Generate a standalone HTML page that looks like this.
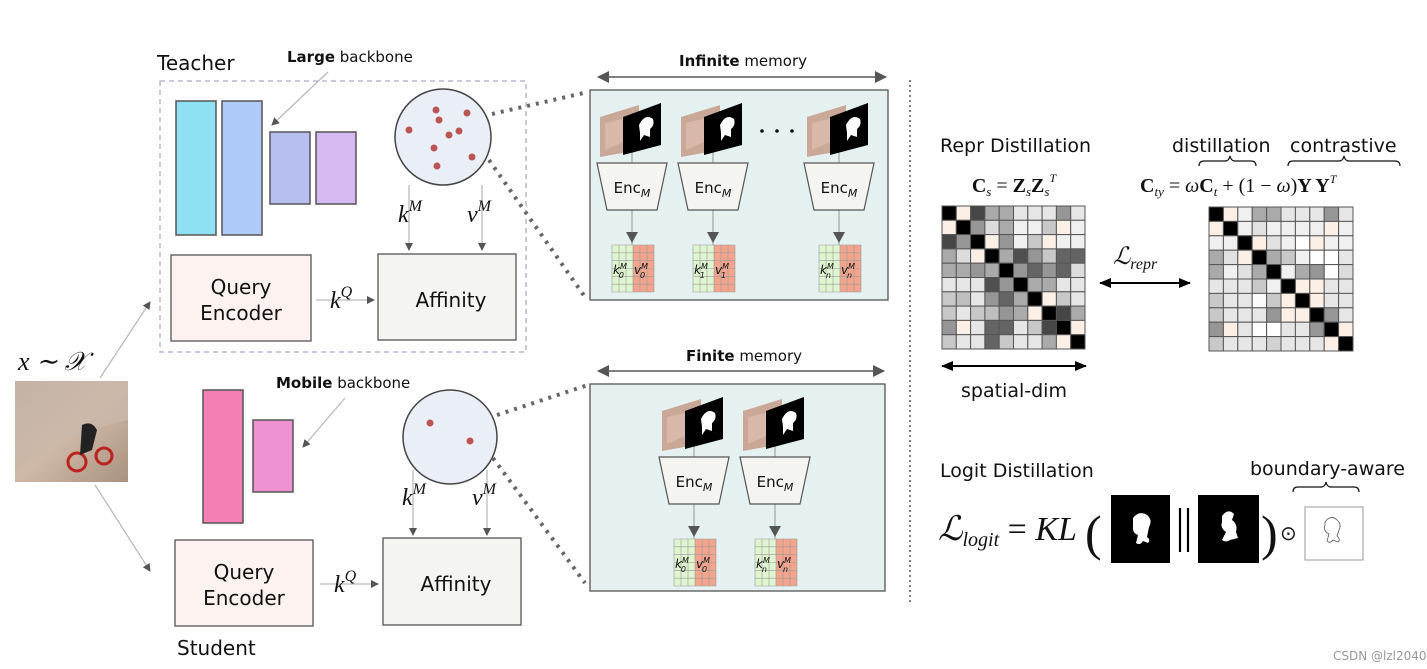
<!DOCTYPE html>
<html><head><meta charset="utf-8"><style>
body{margin:0;background:#fff;width:1427px;height:669px;overflow:hidden}
svg{display:block}
text{font-family:"DejaVu Sans","Liberation Sans",sans-serif;fill:#111}
.m{font-family:"Liberation Serif",serif;font-style:italic}
.b{font-family:"Liberation Serif",serif;font-weight:bold}
.r{font-family:"Liberation Serif",serif}
</style></head><body>
<svg id="s" width="1427" height="669" viewBox="0 0 1427 669" xmlns="http://www.w3.org/2000/svg">
<defs>
<marker id="a" markerWidth="8" markerHeight="8" refX="7" refY="4" orient="auto" markerUnits="userSpaceOnUse"><path d="M0,0L8,4L0,8z" fill="#555"/></marker>
<marker id="a2" markerWidth="12" markerHeight="12" refX="11" refY="6" orient="auto-start-reverse" markerUnits="userSpaceOnUse"><path d="M0,0L12,6L0,12z" fill="#555"/></marker>
<marker id="ab" markerWidth="12" markerHeight="10" refX="11" refY="5" orient="auto-start-reverse" markerUnits="userSpaceOnUse"><path d="M0,0L12,5L0,10z" fill="#000"/></marker>
</defs>
<text x="157" y="70" font-size="20">Teacher</text>
<text x="287" y="62" font-size="15"><tspan font-weight="bold">Large</tspan> backbone</text>
<line x1="328" y1="72" x2="272" y2="125" stroke="#bbb" stroke-width="1.3" marker-end="url(#a)"/>
<rect x="160" y="81" width="366" height="271" fill="none" stroke="#b8b8d4" stroke-width="1.5" stroke-dasharray="5,4"/>
<rect x="176" y="101" width="40" height="134" fill="#8fe0f2" stroke="#555" stroke-width="1.5"/>
<rect x="222" y="101" width="40" height="134" fill="#aecaf6" stroke="#555" stroke-width="1.5"/>
<rect x="270" y="132" width="40" height="72" fill="#b6bff0" stroke="#555" stroke-width="1.5"/>
<rect x="316" y="132" width="40" height="72" fill="#d6baf2" stroke="#555" stroke-width="1.5"/>
<circle cx="443" cy="137" r="48" fill="#e9eef7" stroke="#444" stroke-width="1.5"/>
<g fill="#bb5555"><circle cx="436" cy="110" r="3.5"/><circle cx="467" cy="113" r="3.5"/><circle cx="439" cy="120" r="3.5"/><circle cx="409" cy="130" r="3.5"/><circle cx="459" cy="131" r="3.5"/><circle cx="449" cy="135" r="3.5"/><circle cx="434" cy="148" r="3.5"/><circle cx="472" cy="157" r="3.5"/><circle cx="437" cy="166" r="3.5"/></g>
<line x1="409" y1="185" x2="409" y2="250" stroke="#bbb" stroke-width="1.3" marker-end="url(#a)"/>
<line x1="482" y1="185" x2="482" y2="250" stroke="#bbb" stroke-width="1.3" marker-end="url(#a)"/>
<text x="398" y="222" class="m" font-size="24">k<tspan font-size="16" dy="-11">M</tspan></text>
<text x="467" y="222" class="m" font-size="24">v<tspan font-size="16" dy="-11">M</tspan></text>
<rect x="171" y="255" width="140" height="86" fill="#fdf2ef" stroke="#555" stroke-width="1.3"/>
<text x="241" y="294" font-size="20" text-anchor="middle">Query</text>
<text x="241" y="320" font-size="20" text-anchor="middle">Encoder</text>
<rect x="378" y="254" width="138" height="86" fill="#f4f5f0" stroke="#555" stroke-width="1.3"/>
<text x="451" y="307" font-size="20" text-anchor="middle">Affinity</text>
<line x1="316" y1="300" x2="374" y2="300" stroke="#bbb" stroke-width="1.3" marker-end="url(#a)"/>
<text x="330" y="308" class="m" font-size="24">k<tspan font-size="16" dy="-11">Q</tspan></text>
<line x1="492" y1="114" x2="588" y2="92" stroke="#666" stroke-width="4" stroke-dasharray="3,6"/>
<line x1="489" y1="160" x2="585" y2="297" stroke="#666" stroke-width="4" stroke-dasharray="3,6"/>
<text x="743" y="66" font-size="15" text-anchor="middle"><tspan font-weight="bold">Infinite</tspan> memory</text>
<line x1="598" y1="77" x2="886" y2="77" stroke="#555" stroke-width="1.5" marker-start="url(#a2)" marker-end="url(#a2)"/>
<rect x="590" y="90" width="298" height="210" fill="#e5f0f0" stroke="#555" stroke-width="1.3"/>
<g fill="#111"><circle cx="762" cy="131" r="1.8"/><circle cx="777" cy="131" r="1.8"/><circle cx="792" cy="131" r="1.8"/></g>
<text x="276" y="388" font-size="15"><tspan font-weight="bold">Mobile</tspan> backbone</text>
<line x1="345" y1="398" x2="303" y2="447" stroke="#bbb" stroke-width="1.3" marker-end="url(#a)"/>
<rect x="203" y="390" width="40" height="133" fill="#f47fb4" stroke="#555" stroke-width="1.5"/>
<rect x="253" y="420" width="40" height="72" fill="#ee92d4" stroke="#555" stroke-width="1.5"/>
<circle cx="450" cy="437" r="47" fill="#e9eef7" stroke="#444" stroke-width="1.5"/>
<g fill="#bb5555"><circle cx="430" cy="423" r="3.5"/><circle cx="470" cy="441" r="3.5"/></g>
<line x1="413" y1="470" x2="413" y2="535" stroke="#bbb" stroke-width="1.3" marker-end="url(#a)"/>
<line x1="487" y1="470" x2="487" y2="535" stroke="#bbb" stroke-width="1.3" marker-end="url(#a)"/>
<text x="402" y="505" class="m" font-size="24">k<tspan font-size="16" dy="-11">M</tspan></text>
<text x="472" y="505" class="m" font-size="24">v<tspan font-size="16" dy="-11">M</tspan></text>
<rect x="175" y="540" width="138" height="86" fill="#fdf2ef" stroke="#555" stroke-width="1.3"/>
<text x="244" y="579" font-size="20" text-anchor="middle">Query</text>
<text x="244" y="605" font-size="20" text-anchor="middle">Encoder</text>
<rect x="383" y="538" width="138" height="87" fill="#f4f5f0" stroke="#555" stroke-width="1.3"/>
<text x="456" y="591" font-size="20" text-anchor="middle">Affinity</text>
<line x1="320" y1="584" x2="378" y2="584" stroke="#bbb" stroke-width="1.3" marker-end="url(#a)"/>
<text x="334" y="592" class="m" font-size="24">k<tspan font-size="16" dy="-11">Q</tspan></text>
<text x="177" y="655" font-size="20">Student</text>
<line x1="497" y1="415" x2="588" y2="385" stroke="#666" stroke-width="4" stroke-dasharray="3,6"/>
<line x1="493" y1="458" x2="585" y2="583" stroke="#666" stroke-width="4" stroke-dasharray="3,6"/>
<text x="744" y="361" font-size="15" text-anchor="middle"><tspan font-weight="bold">Finite</tspan> memory</text>
<line x1="598" y1="371" x2="884" y2="371" stroke="#555" stroke-width="1.5" marker-start="url(#a2)" marker-end="url(#a2)"/>
<rect x="590" y="384" width="295" height="207" fill="#e5f0f0" stroke="#555" stroke-width="1.3"/>
<g id="cols"></g>
<text x="18" y="370" class="m" font-size="26">x ∼ 𝒳</text>
<defs><linearGradient id="ph" x1="0" y1="0" x2="1" y2="1"><stop offset="0" stop-color="#b9a89a"/><stop offset=".5" stop-color="#cfb9a6"/><stop offset="1" stop-color="#a8917e"/></linearGradient></defs>
<rect x="15" y="381" width="113" height="101" fill="url(#ph)"/>
<path d="M15,381 L128,381 L128,420 Q80,430 15,460z" fill="#c9b8ab" opacity=".7"/>
<circle cx="77" cy="462" r="9" fill="none" stroke="#b22" stroke-width="3"/><circle cx="104" cy="456" r="8" fill="none" stroke="#b22" stroke-width="3"/>
<path d="M82,425 q10,-5 15,5 l-5,20 l-12,5z" fill="#222"/>
<line x1="100" y1="378" x2="150" y2="302" stroke="#bbb" stroke-width="1.3" marker-end="url(#a)"/>
<line x1="95" y1="485" x2="150" y2="571" stroke="#bbb" stroke-width="1.3" marker-end="url(#a)"/>
<line x1="910" y1="80" x2="910" y2="605" stroke="#555" stroke-width="1.5" stroke-dasharray="2,3"/>
<text x="940" y="152" font-size="19">Repr Distillation</text>
<text x="1014" y="192" class="b" font-size="20" text-anchor="middle">C<tspan font-size="13" dy="4" class="m" font-weight="normal">s</tspan><tspan dy="-4" font-weight="normal" class="r"> = </tspan>Z<tspan font-size="13" dy="4" class="m" font-weight="normal">s</tspan><tspan dy="-4">Z</tspan><tspan font-size="13" dy="4" class="m" font-weight="normal">s</tspan><tspan font-size="12" dy="-14" class="m" font-weight="normal">T</tspan></text>
<text x="1172" y="152" font-size="19">distillation</text>
<text x="1290" y="152" font-size="19">contrastive</text>
<path d="M1199,166 q0,-5 5,-5 h21 q4,0 5,-5 q1,5 5,5 h16 q5,0 5,5" fill="none" stroke="#111" stroke-width="1.2"/>
<path d="M1288,166 q0,-5 5,-5 h46 q4,0 5,-5 q1,5 5,5 h46 q5,0 5,5" fill="none" stroke="#111" stroke-width="1.2"/>
<text x="1140" y="192" font-size="20" class="r"><tspan class="b">C</tspan><tspan font-size="13" dy="4" class="m">ty</tspan><tspan dy="-4"> = </tspan><tspan class="m">ω</tspan><tspan class="b">C</tspan><tspan font-size="13" dy="4" class="m">t</tspan><tspan dy="-4"> + (1 − </tspan><tspan class="m">ω</tspan><tspan>)</tspan><tspan class="b">Y Y</tspan><tspan font-size="12" dy="-9" class="m">T</tspan></text>
<g id="g1"></g><g id="g2"></g>
<text x="1113" y="264" class="m" font-size="24">ℒ<tspan font-size="16" dy="5">repr</tspan></text>
<line x1="1100" y1="283" x2="1190" y2="283" stroke="#000" stroke-width="2" marker-start="url(#ab)" marker-end="url(#ab)"/>
<line x1="942" y1="366" x2="1086" y2="366" stroke="#000" stroke-width="2" marker-start="url(#ab)" marker-end="url(#ab)"/>
<text x="1014" y="397" font-size="19" text-anchor="middle">spatial-dim</text>
<text x="940" y="477" font-size="19">Logit Distillation</text>
<text x="1250" y="475" font-size="19">boundary-aware</text>
<path d="M1293,492 q0,-5 5,-5 h23 q4,0 5,-5 q1,5 5,5 h23 q5,0 5,5" fill="none" stroke="#111" stroke-width="1.2"/>
<text x="938" y="540" class="m" font-size="34">ℒ<tspan font-size="20" dy="6">logit</tspan><tspan dy="-6" class="r" font-style="normal"> = </tspan>KL</text>
<text x="1085" y="550" class="r" font-size="50">(</text>
<rect x="1111" y="495" width="59" height="68" fill="#000"/>
<path d="M1133,518 q6,-8 14,-3 q6,5 2,12 l-2,10 q4,3 1,6 l-5,-2 q-3,5 -7,2 l2,-8 q-6,-2 -5,-9z" fill="#fff"/>
<line x1="1180" y1="508" x2="1180" y2="552" stroke="#000" stroke-width="2.2"/>
<line x1="1188" y1="508" x2="1188" y2="552" stroke="#000" stroke-width="2.2"/>
<rect x="1198" y="495" width="61" height="68" fill="#000"/>
<path d="M1222,516 q6,-8 12,-2 l-2,6 q6,4 4,12 l2,6 l-8,2 q-4,3 -8,0 l4,-8 q-6,-4 -4,-10z" fill="#fff"/>
<text x="1261" y="550" class="r" font-size="50">)</text>
<text x="1280" y="540" class="r" font-size="20">⊙</text>
<rect x="1305" y="507" width="58" height="53" fill="#fff" stroke="#999" stroke-width="1"/>
<path d="M1325,522 q6,-8 12,-2 q5,4 2,10 l-2,6 q4,4 1,6 l-5,-2 q-3,4 -6,1 l2,-7 q-6,-3 -4,-9z" fill="none" stroke="#555" stroke-width=".8"/>
<text x="1333" y="660" font-size="12" style="fill:#999">CSDN @lzl2040</text>
</svg>
<script>
var NS="http://www.w3.org/2000/svg";
function el(p,t,a){var e=document.createElementNS(NS,t);for(var k in a)e.setAttribute(k,a[k]);p.appendChild(e);return e;}
var C=-1;
var L=[[0,C,70,170,170,230,230,230,150,230],[C,0,150,220,170,240,240,200,C,240],[70,150,0,C,150,240,200,C,240,240],[170,220,C,0,170,80,150,200,100,100],[170,170,150,170,0,150,100,150,100,220],[230,230,230,80,150,0,170,170,230,230],[200,190,230,150,100,170,0,C,200,230],[200,230,200,190,150,170,C,0,70,170],[150,C,230,100,100,230,200,70,0,C],[200,230,230,100,200,230,230,170,C,0]];
var R=[[0,C,240,170,170,230,230,230,150,230],[C,0,240,225,240,240,240,240,C,240],[240,240,0,C,225,240,255,C,240,240],[170,225,C,0,170,200,240,255,255,230],[170,240,225,170,0,240,170,150,255,220],[230,230,230,200,240,0,C,C,230,230],[200,230,230,250,200,C,0,C,230,230],[200,230,230,230,150,C,C,0,150,230],[150,C,230,255,255,230,230,150,0,C],[200,230,230,230,210,230,230,230,C,0]];
function grid(id,x,y,s,M){var g=document.getElementById(id);for(var i=0;i<10;i++)for(var j=0;j<10;j++){var v=M[i][j];var f=v<0?"#fbefe6":"rgb("+v+","+v+","+v+")";el(g,"rect",{x:x+j*s,y:y+i*s,width:s,height:s,fill:f,stroke:"#555","stroke-width":1});}}
grid("g1",942,206,14.3,L);grid("g2",1209,207,14.4,R);
var cols=document.getElementById("cols");
function col(x,y,sub){var g=el(cols,"g",{});
el(g,"line",{x1:x+35,y1:y+40,x2:x+35,y2:y+150,stroke:"#aaa","stroke-width":1.3});
el(g,"polygon",{points:(x+3)+","+(y+22)+" "+(x+42)+","+(y+10)+" "+(x+42)+","+(y+55)+" "+(x+3)+","+(y+62),fill:"#c9a898"});
el(g,"polygon",{points:(x+8)+","+(y+28)+" "+(x+42)+","+(y+20)+" "+(x+42)+","+(y+40)+" "+(x+8)+","+(y+55),fill:"#d8b8a8"});
el(g,"polygon",{points:(x+26)+","+(y+22)+" "+(x+64)+","+(y+8)+" "+(x+64)+","+(y+50)+" "+(x+26)+","+(y+60),fill:"#000"});
el(g,"path",{d:"M"+(x+42)+","+(y+30)+" q6,-12 14,-6 q2,6 -3,10 l0,8 l-6,-2 l-4,6 l0,-8z",fill:"#fff"});
el(g,"polygon",{points:(x+0)+","+(y+68)+" "+(x+70)+","+(y+68)+" "+(x+60)+","+(y+115)+" "+(x+10)+","+(y+115),fill:"#f4f5f0",stroke:"#555","stroke-width":1.2});
var t=el(g,"text",{x:x+35,y:y+98,"font-size":15,"text-anchor":"middle"});t.innerHTML='Enc<tspan font-size="11" dy="4" font-style="italic">M</tspan>';
el(g,"path",{d:"M"+(x+29)+","+(y+137)+" h12 l-6,11z",fill:"#555"});
var gx=x+15,gy=y+150;el(g,"rect",{x:gx,y:gy,width:21,height:47,fill:"#dff5d0"});el(g,"rect",{x:gx+21,y:gy,width:21,height:47,fill:"#f3a48c"});
for(var i=0;i<=6;i++){el(g,"line",{x1:gx+i*7,y1:gy,x2:gx+i*7,y2:gy+47,stroke:"#999","stroke-width":.6});}
for(var i=0;i<=6;i++){el(g,"line",{x1:gx,y1:gy+i*47/6,x2:gx+42,y2:gy+i*47/6,stroke:"#999","stroke-width":.6});}
var k=el(g,"text",{x:gx+1,y:gy+29,"font-size":12,"font-style":"italic","font-family":"Liberation Serif"});k.innerHTML='k<tspan font-size="8" dy="-5">M</tspan><tspan font-size="8" dx="-8" dy="9">'+sub+'</tspan>';
var v=el(g,"text",{x:gx+22,y:gy+29,"font-size":12,"font-style":"italic","font-family":"Liberation Serif"});v.innerHTML='v<tspan font-size="8" dy="-5">M</tspan><tspan font-size="8" dx="-8" dy="9">'+sub+'</tspan>';
}
col(597,95,"0");col(678,95,"1");col(804,95,"n");col(659,389,"0");col(740,389,"n");
</script>
</body></html>
